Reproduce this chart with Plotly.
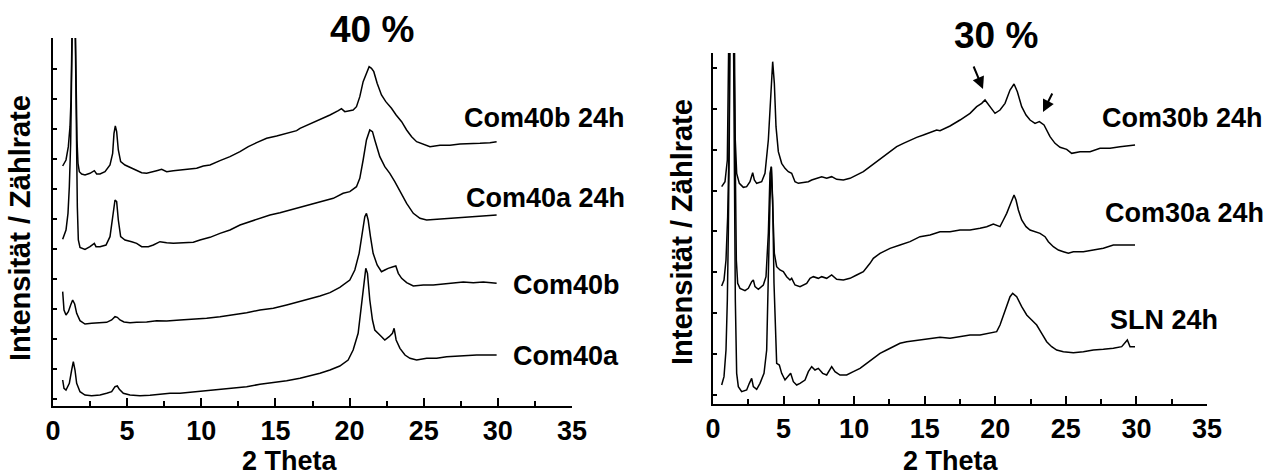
import plotly.graph_objects as go

# ---------------- 40 % panel (left) ----------------
x_com40b_24h = [0.652, 0.877, 1.034, 1.146, 1.214, 1.281, 1.33, 1.42, 1.51, 1.551, 1.618, 1.686, 1.776, 1.933,
                2.158, 2.495, 2.787, 2.944, 3.169, 3.506, 3.844, 4.023, 4.113, 4.203, 4.293, 4.405, 4.563, 4.855,
                5.305, 5.642, 5.979, 6.316, 6.653, 6.990, 7.328, 7.665, 8.114, 8.564, 9.238, 9.688, 10.137, 10.587,
                11.261, 11.935, 12.610, 13.171, 13.733, 14.408, 15.082, 15.757, 16.431, 16.656, 17.330, 18.004,
                18.678, 19.240, 19.453, 19.678, 20.240, 20.465, 20.690, 20.915, 21.139, 21.319, 21.477, 21.634,
                21.859, 22.151, 22.443, 22.826, 23.140, 23.511, 23.848, 24.185, 24.523, 24.972, 25.422, 26.096,
                26.770, 27.444, 28.119, 28.793, 29.467, 29.917]
y_com40b_24h = [699, 717, 757, 817, 897, 997, 1100, 1500, 1100, 897, 777, 707, 682, 675,
                672, 677, 685, 675, 675, 682, 702, 737, 797, 819, 802, 747, 712, 702,
                692, 687, 679, 677, 682, 685, 689, 682, 685, 687, 689, 692, 699, 702,
                715, 727, 742, 757, 769, 782, 789, 797, 805, 812, 825, 839,
                852, 865, 871, 862, 867, 877, 907, 952, 977, 997, 992, 982,
                947, 912, 892, 872, 852, 832, 807, 787, 772, 765, 757, 761,
                761, 765, 765, 767, 769, 772]

x_com40a_24h = [0.652, 0.877, 1.011, 1.101, 1.191, 1.281, 1.349, 1.42, 1.506, 1.573, 1.641, 1.708, 1.821, 2.158,
                2.495, 2.787, 2.900, 3.169, 3.574, 3.844, 4.068, 4.181, 4.293, 4.405, 4.563, 4.855, 5.305, 5.642,
                5.979, 6.428, 6.766, 7.215, 7.665, 8.114, 8.789, 9.463, 9.912, 10.587, 11.261, 11.935, 12.610,
                13.284, 13.958, 14.633, 15.307, 15.981, 16.656, 17.330, 18.004, 18.903, 19.566, 20.016, 20.465,
                20.690, 20.915, 21.139, 21.364, 21.544, 21.701, 22.039, 22.376, 22.713, 23.050, 23.399, 23.848,
                24.298, 24.747, 25.197, 25.871, 26.545, 27.219, 27.894, 28.568, 29.242, 29.917]
y_com40a_24h = [479, 507, 557, 637, 767, 947, 1082, 1500, 1082, 797, 577, 477, 455, 449,
                457, 467, 457, 457, 462, 487, 557, 597, 592, 537, 487, 477, 472, 467,
                457, 457, 462, 472, 469, 467, 469, 470, 477, 485, 497, 507, 522,
                532, 542, 552, 559, 567, 577, 585, 592, 602, 617, 622, 637,
                662, 717, 777, 807, 802, 777, 727, 697, 677, 652, 622, 587,
                557, 542, 537, 539, 541, 542, 544, 547, 549, 552]

x_com40b = [0.652, 0.742, 0.877, 1.034, 1.191, 1.326, 1.461, 1.596, 1.821, 2.158, 2.607, 3.169, 3.619, 3.956,
            4.181, 4.338, 4.518, 4.788, 5.192, 5.642, 6.316, 6.990, 7.665, 8.564, 9.463, 10.362, 11.261, 12.160,
            13.059, 13.958, 14.857, 15.757, 16.656, 17.330, 18.004, 18.678, 19.341, 20.016, 20.353, 20.645,
            20.870, 21.027, 21.139, 21.252, 21.409, 21.589, 21.859, 22.151, 22.376, 22.601, 22.938, 23.118,
            23.286, 23.511, 23.848, 24.298, 24.972, 25.646, 26.320, 26.995, 27.669, 28.343, 29.018, 29.917]
y_com40b = [322, 267, 252, 262, 282, 297, 285, 257, 235, 225, 227, 229, 230, 237,
            247, 245, 237, 231, 229, 230, 231, 235, 234, 237, 239, 242, 247, 252,
            259, 267, 272, 282, 292, 300, 309, 319, 335, 357, 387, 437,
            497, 547, 557, 537, 487, 437, 402, 382, 387, 392, 397, 399,
            377, 362, 349, 339, 342, 342, 345, 347, 351, 349, 351, 347]

x_com40a = [0.652, 0.742, 0.877, 1.101, 1.259, 1.371, 1.483, 1.596, 1.821, 2.158, 2.607, 3.169, 3.619, 3.956,
            4.181, 4.338, 4.473, 4.743, 5.192, 5.866, 6.541, 7.215, 7.889, 8.564, 9.463, 10.362, 11.261, 12.160,
            13.059, 13.958, 14.857, 15.757, 16.656, 17.330, 18.004, 18.678, 19.341, 19.903, 20.240, 20.578,
            20.802, 20.960, 21.094, 21.207, 21.364, 21.544, 21.701, 22.039, 22.376, 22.668, 22.893, 23.005,
            23.140, 23.399, 23.736, 24.073, 24.523, 25.197, 25.871, 26.545, 27.219, 27.894, 28.568, 29.242, 29.917]
y_com40a = [57, 32, 27, 47, 87, 112, 87, 47, 22, 12, 10, 12, 17, 22,
            37, 39, 29, 17, 12, 10, 11, 14, 17, 17, 21, 25, 29, 32,
            37, 44, 49, 55, 62, 69, 77, 87, 99, 117, 147, 197,
            277, 347, 392, 377, 297, 237, 207, 192, 177, 187, 197, 212,
            177, 152, 132, 122, 117, 122, 122, 127, 129, 129, 132, 132, 132]

# ---------------- 30 % panel (right) ----------------
x_com30b_24h = [0.614, 0.850, 1.016, 1.134, 1.205, 1.37, 1.488, 1.559, 1.677, 1.866, 2.149, 2.385, 2.621, 2.811,
                2.929, 3.094, 3.448, 3.684, 3.921, 4.086, 4.228, 4.346, 4.464, 4.629, 4.865, 5.102, 5.338, 5.574,
                5.810, 6.046, 6.401, 6.755, 6.991, 7.345, 7.700, 8.054, 8.408, 8.762, 9.235, 9.707, 10.179,
                10.652, 11.124, 11.597, 12.069, 12.541, 13.014, 13.487, 13.959, 14.431, 14.904, 15.376, 15.848,
                16.084, 16.793, 17.501, 18.210, 18.682, 19.037, 19.273, 19.627, 19.981, 20.335, 20.690, 21.044,
                21.328, 21.564, 21.871, 22.178, 22.462, 22.816, 23.123, 23.453, 23.642, 23.878, 24.232, 24.587,
                25.059, 25.413, 26.004, 26.712, 27.421, 28.129, 28.838, 29.310, 29.901]
y_com30b_24h = [625, 640, 705, 885, 1025, 2000, 1025, 785, 665, 635, 623, 625, 640, 667,
                645, 635, 640, 665, 765, 905, 1000, 935, 805, 730, 695, 680, 670, 665,
                640, 635, 637, 640, 645, 650, 655, 650, 655, 647, 645, 650, 660,
                670, 685, 700, 715, 730, 745, 755, 765, 773, 780, 787, 795,
                793, 807, 825, 845, 865, 875, 885, 865, 845, 855, 875, 915,
                933, 910, 865, 840, 825, 815, 820, 810, 795, 775, 755, 743,
                737, 725, 730, 730, 740, 740, 745, 747, 750]

x_com30a_24h = [0.614, 0.779, 0.921, 1.039, 1.134, 1.205, 1.37, 1.582, 1.653, 1.748, 1.913, 2.267, 2.504, 2.740,
                2.858, 2.976, 3.212, 3.566, 3.755, 3.921, 4.039, 4.133, 4.228, 4.346, 4.511, 4.747, 4.983, 5.220,
                5.456, 5.574, 5.810, 6.164, 6.637, 6.873, 7.109, 7.463, 7.700, 8.054, 8.408, 8.762, 9.235, 9.707,
                10.179, 10.652, 11.124, 11.360, 11.833, 12.541, 13.250, 13.959, 14.667, 15.376, 16.084, 16.793,
                17.501, 18.210, 18.919, 19.391, 19.863, 20.335, 20.572, 20.808, 21.092, 21.328, 21.470, 21.635,
                21.871, 22.178, 22.462, 22.816, 23.170, 23.524, 23.760, 24.114, 24.469, 24.823, 25.177, 25.531,
                26.240, 26.948, 27.657, 28.365, 29.074, 29.901]
y_com30a_24h = [327, 345, 405, 535, 735, 935, 2000, 685, 405, 335, 320, 313, 320, 340,
                345, 325, 317, 330, 355, 485, 665, 685, 585, 425, 385, 375, 370, 355,
                345, 350, 330, 325, 335, 350, 355, 350, 355, 350, 360, 347, 345, 350,
                360, 370, 395, 410, 425, 440, 450, 460, 475, 480, 490, 490,
                495, 495, 500, 505, 513, 505, 525, 545, 575, 600, 585, 555,
                525, 505, 495, 490, 485, 475, 460, 445, 435, 430, 425, 430,
                430, 435, 440, 450, 450, 450]

x_sln_24h = [0.614, 0.779, 0.921, 1.016, 1.086, 1.157, 1.30, 1.512, 1.582, 1.677, 1.795, 2.031, 2.385, 2.574,
             2.740, 2.858, 3.094, 3.330, 3.614, 3.803, 3.921, 4.039, 4.133, 4.228, 4.322, 4.417, 4.511, 4.700,
             4.865, 5.102, 5.338, 5.503, 5.692, 5.928, 6.164, 6.519, 6.755, 6.991, 7.227, 7.463, 7.770, 8.054,
             8.408, 8.644, 8.999, 9.471, 9.943, 10.416, 10.888, 11.360, 11.833, 12.305, 12.778, 13.250, 13.722,
             14.195, 14.903, 15.612, 16.084, 16.793, 17.501, 18.210, 18.919, 19.627, 20.099, 20.335, 20.572,
             20.808, 21.044, 21.233, 21.517, 21.871, 22.225, 22.580, 22.934, 23.288, 23.642, 23.996, 24.351,
             24.823, 25.531, 26.240, 26.948, 27.657, 28.365, 28.956, 29.357, 29.546, 29.901]
y_sln_24h = [30, 55, 135, 285, 485, 785, 2000, 685, 285, 65, 25, 10, 15, 35,
             50, 25, 17, 35, 65, 135, 385, 585, 685, 585, 335, 185, 95, 90,
             65, 45, 55, 65, 40, 30, 35, 45, 70, 85, 75, 80, 65, 60,
             85, 70, 60, 60, 70, 80, 95, 110, 125, 135, 145, 155, 160,
             163, 167, 170, 173, 170, 175, 180, 180, 185, 190, 210, 240,
             265, 295, 305, 295, 265, 240, 225, 210, 185, 160, 145, 135,
             130, 127, 130, 135, 137, 140, 145, 165, 145, 145]

left_labels = ["Com40b 24h", "Com40a 24h", "Com40b", "Com40a"]
right_labels = ["Com30b 24h", "Com30a 24h", "SLN 24h"]
titles = ["40 %", "30 %"]
x_title = "2 Theta"
y_title = "Intensität / Zählrate"
x_ticks = [0, 5, 10, 15, 20, 25, 30, 35]

FONT = "Liberation Sans, Arial, sans-serif"
W, H = 1268, 474

fig = go.Figure()
line = dict(color="black", width=1.5)
for xs, ys in [(x_com40b_24h, y_com40b_24h), (x_com40a_24h, y_com40a_24h),
               (x_com40b, y_com40b), (x_com40a, y_com40a)]:
    fig.add_trace(go.Scatter(x=xs, y=ys, mode="lines", line=line, xaxis="x", yaxis="y",
                             showlegend=False, hoverinfo="skip"))
for xs, ys in [(x_com30b_24h, y_com30b_24h), (x_com30a_24h, y_com30a_24h), (x_sln_24h, y_sln_24h)]:
    fig.add_trace(go.Scatter(x=xs, y=ys, mode="lines", line=line, xaxis="x2", yaxis="y2",
                             showlegend=False, hoverinfo="skip"))

tickfont = dict(family=FONT, size=27, color="black", weight="bold")
xcommon = dict(range=[0, 35], tickvals=x_ticks, ticks="inside", ticklen=8, tickwidth=2,
               tickcolor="black", showline=True, linewidth=2, linecolor="black", showgrid=False,
               zeroline=False, tickfont=tickfont, ticklabelstandoff=0, automargin=False,
               minor=dict(dtick=2.5, tick0=0, ticks="inside", ticklen=5, tickwidth=2, tickcolor="black"))
ycommon = dict(ticks="inside", ticklen=4, tickwidth=2, tickcolor="black", showline=True, linewidth=2,
               linecolor="black", showgrid=False, zeroline=False, showticklabels=False, tick0=0,
               automargin=False)

fig.update_layout(
    width=W, height=H, autosize=False, margin=dict(l=0, r=0, t=0, b=0, autoexpand=False),
    paper_bgcolor="white", plot_bgcolor="white", showlegend=False, hovermode=False,
    xaxis=dict(domain=[53 / W, 572 / W], anchor="y", **xcommon),
    yaxis=dict(domain=[(H - 406) / H, (H - 38) / H], anchor="x", range=[-21, 1083], dtick=90, **ycommon),
    xaxis2=dict(domain=[713 / W, 1207 / W], anchor="y2", **xcommon),
    yaxis2=dict(domain=[(H - 404) / H, (H - 53) / H], anchor="x2", range=[-27, 1026], dtick=122.7, **ycommon),
)

lab = dict(family=FONT, size=27, color="black", weight="bold")
ann = []
for text, px, py in zip(left_labels, [462, 464, 511, 511], [118, 198, 285, 356]):
    ann.append(dict(text=text, x=px / W, y=1 - py / H, xref="paper", yref="paper",
                    xanchor="left", yanchor="middle", showarrow=False, font=lab))
for text, px, py in zip(right_labels, [1100, 1103, 1108], [118, 213, 320]):
    ann.append(dict(text=text, x=px / W, y=1 - py / H, xref="paper", yref="paper",
                    xanchor="left", yanchor="middle", showarrow=False, font=lab))
for text, px, py in zip(titles, [372, 996], [29, 36]):
    ann.append(dict(text=text, x=px / W, y=1 - py / H, xref="paper", yref="paper",
                    xanchor="center", yanchor="middle", showarrow=False,
                    font=dict(family=FONT, size=37, color="black", weight="bold")))
for px in [290, 951]:
    ann.append(dict(text=x_title, x=px / W, y=0, xref="paper", yref="paper", yshift=-4,
                    xanchor="center", yanchor="bottom", showarrow=False, font=lab))
for px, py in [(20, 228), (682, 232)]:
    ann.append(dict(text=y_title, x=px / W, y=1 - py / H, xref="paper", yref="paper", textangle=-90,
                    xanchor="center", yanchor="middle", showarrow=False,
                    font=dict(family=FONT, size=29, color="black", weight="bold")))
# arrows in the 30 % panel
for (tx, ty), (sx, sy) in [((19.13, 918), (18.42, 990)), ((23.38, 849), (24.09, 909))]:
    ann.append(dict(text="", x=tx, y=ty, xref="x2", yref="y2", ax=sx, ay=sy, axref="x2", ayref="y2",
                    showarrow=True, arrowhead=2, arrowsize=1.2, arrowwidth=2, arrowcolor="black"))
fig.update_layout(annotations=ann)

fig.write_html("out.html",
               config={"responsive": False, "displayModeBar": False, "staticPlot": True},
               default_width="1268px", default_height="474px",
               post_script="document.documentElement.style.overflow='hidden';"
                           "document.body.style.margin='0';document.body.style.overflow='hidden';")
